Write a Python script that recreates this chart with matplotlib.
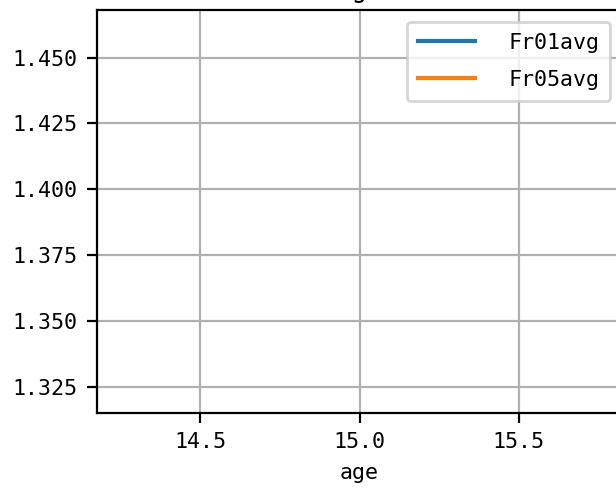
import matplotlib
matplotlib.use('Agg')
import matplotlib.pyplot as plt

# data: a single age point, so the lines draw nothing
age = [15.0]
fr01avg = [1.3917]
fr05avg = [1.3917]

plt.rcParams['font.family'] = ['DejaVu Sans Mono', 'DejaVu Sans']
plt.rcParams['font.size'] = 7.8

fig = plt.figure(figsize=(3.08, 2.44), dpi=200)
ax = fig.add_axes([96.7 / 616, 75.2 / 488, 525.7 / 616, 403.3 / 488])

ax.plot(age, fr01avg, label='Fr01avg')
ax.plot(age, fr05avg, label='Fr05avg')

ax.set_xticks([14.5, 15.0, 15.5])
ax.set_yticks([1.325, 1.35, 1.375, 1.4, 1.425, 1.45])
ax.set_xlabel('age', fontsize=7.8)
ax.set_title('age', fontsize=9.3, pad=4.5)
ax.grid(True)
ax.legend(loc='upper right', handlelength=2.63, handletextpad=1.54,
          labelspacing=0.8, borderpad=0.5, borderaxespad=0.57)

fig.savefig('out.png', dpi=200)
